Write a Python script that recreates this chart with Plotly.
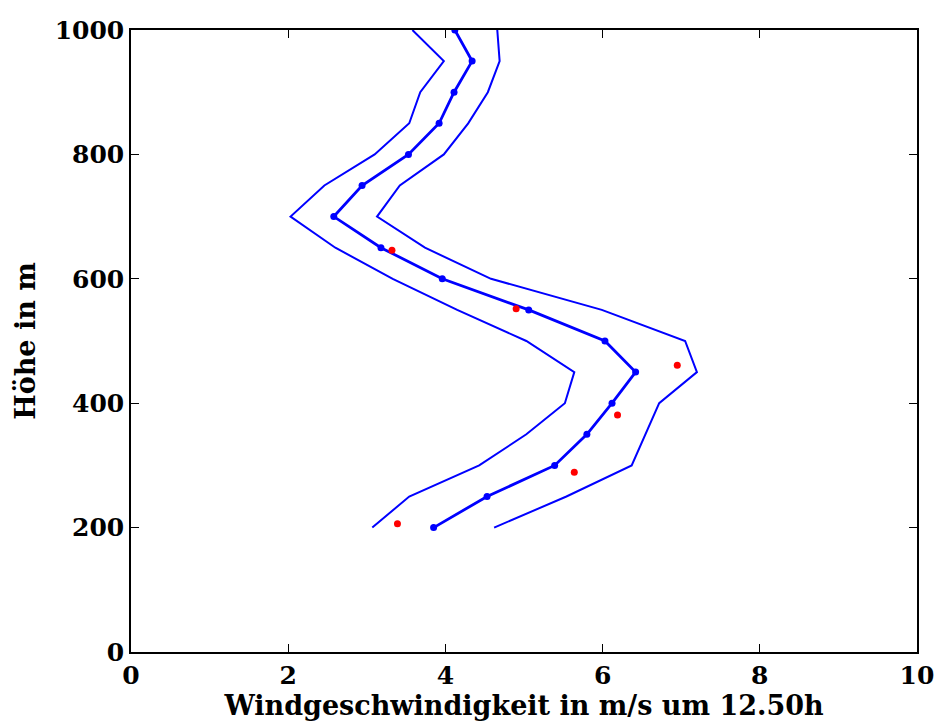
import plotly.graph_objects as go

# Heights (m) of the profile levels
heights = [200, 250, 300, 350, 400, 450, 500, 550, 600, 650, 700, 750, 800, 850, 900, 950, 1000]

# Mean wind speed profile (m/s) and its lower / upper envelope
wind_mean = [3.85, 4.53, 5.39, 5.80, 6.12, 6.42, 6.03, 5.06, 3.96, 3.18, 2.58, 2.94, 3.53, 3.92, 4.11, 4.34, 4.12]
wind_low = [3.07, 3.54, 4.43, 5.03, 5.52, 5.64, 5.03, 4.15, 3.33, 2.60, 2.03, 2.46, 3.10, 3.54, 3.68, 3.98, 3.58]
wind_high = [4.62, 5.54, 6.37, 6.55, 6.72, 7.20, 7.05, 5.99, 4.58, 3.74, 3.13, 3.42, 3.98, 4.29, 4.54, 4.69, 4.66]

# Measured values
obs_speed = [3.39, 5.64, 6.19, 6.95, 4.90, 3.32]
obs_height = [206, 289, 381, 461, 552, 646]

x_ticks = [0, 2, 4, 6, 8, 10]
y_ticks = [0, 200, 400, 600, 800, 1000]

BLUE = "#0000ff"
FONT = "DejaVu Serif"

fig = go.Figure()
fig.add_trace(go.Scatter(x=wind_low, y=heights, mode="lines",
                         line=dict(color=BLUE, width=2), showlegend=False))
fig.add_trace(go.Scatter(x=wind_high, y=heights, mode="lines",
                         line=dict(color=BLUE, width=2), showlegend=False))
fig.add_trace(go.Scatter(x=wind_mean, y=heights, mode="lines+markers",
                         line=dict(color=BLUE, width=2.8),
                         marker=dict(color=BLUE, size=7), showlegend=False))
fig.add_trace(go.Scatter(x=obs_speed, y=obs_height, mode="markers",
                         marker=dict(color="#ff0000", size=7), showlegend=False))

axis_common = dict(
    showgrid=False, zeroline=False, showline=True, linecolor="black", linewidth=1.5,
    mirror="ticks", ticks="inside", ticklen=8, tickwidth=1, tickcolor="black",
    tickfont=dict(family=FONT, size=25, color="black"), automargin=False,
)

fig.update_xaxes(range=[0, 10], tickvals=x_ticks, ticktext=[f"<b>{v}</b>" for v in x_ticks],
                 title=dict(text="<b>Windgeschwindigkeit in m/s um 12.50h</b>",
                            font=dict(family=FONT, size=27, color="black"), standoff=0),
                 **axis_common)
fig.update_yaxes(range=[0, 1000], tickvals=y_ticks, ticktext=[f"<b>{v}</b>" for v in y_ticks],
                 title=dict(text="<b>Höhe in m</b>",
                            font=dict(family=FONT, size=27, color="black"), standoff=11),
                 **axis_common)

fig.update_layout(
    width=940, height=722,
    margin=dict(l=131, r=23, t=30, b=70),
    plot_bgcolor="white", paper_bgcolor="white",
)

fig.write_html("out.html")
